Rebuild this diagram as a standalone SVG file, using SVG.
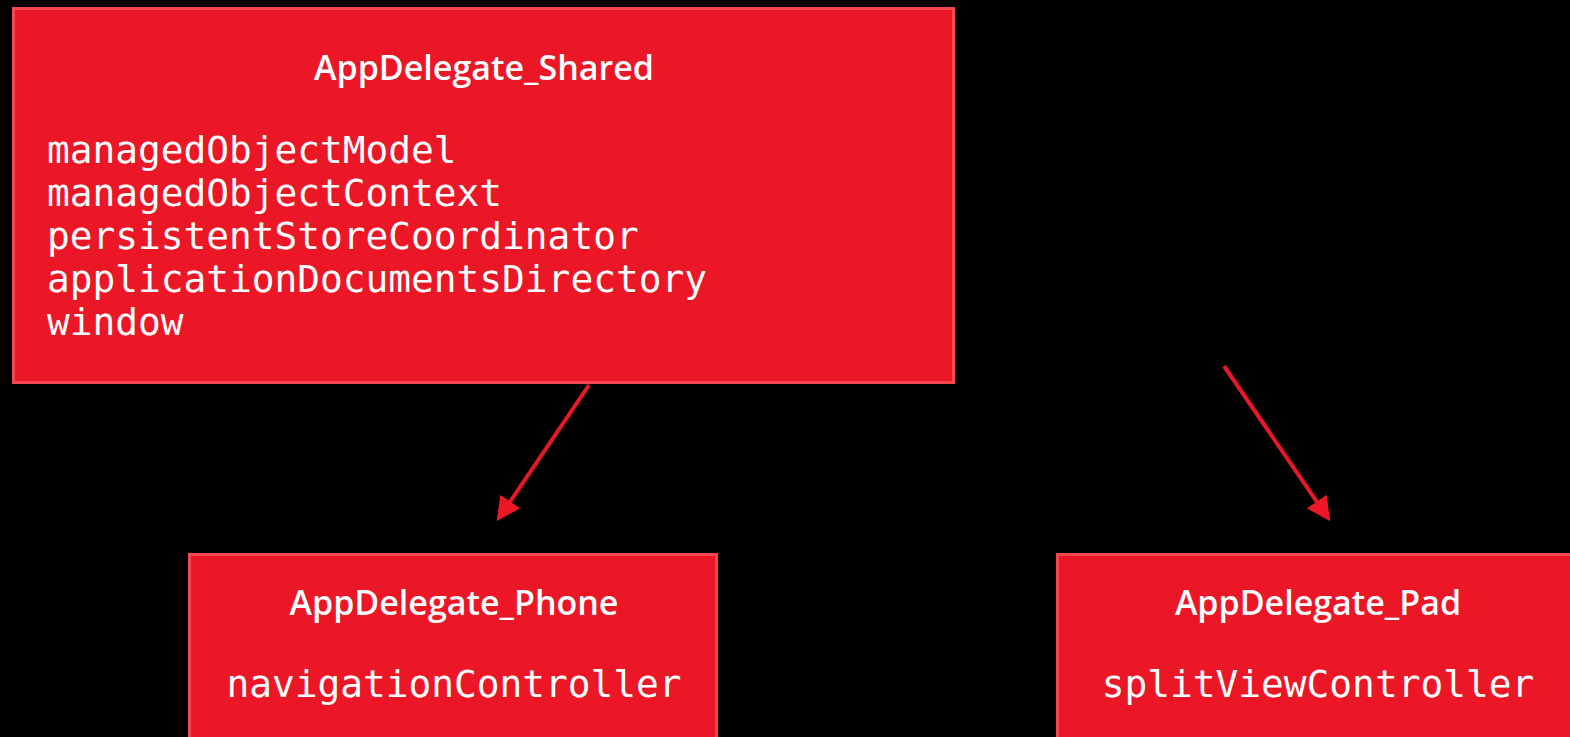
<svg xmlns="http://www.w3.org/2000/svg" width="1570" height="737" viewBox="0 0 1570 737">
<style>
.box{fill:#eb1726;stroke:#f5474f;stroke-width:3}
.title{font-family:"Open Sans","Noto Sans",sans-serif;font-weight:600;font-size:34px;fill:#fff;text-anchor:middle}
.mono{font-family:"DejaVu Sans Mono",monospace;font-size:37.8px;fill:#fff}
.conn{stroke:#eb1726;stroke-width:4;fill:none}
</style>
<defs>
<marker id="ah" markerWidth="6" markerHeight="6" refX="5" refY="3" orient="auto" markerUnits="strokeWidth">
<path d="M0,0 L6,3 L0,6 Z" fill="#eb1726"/>
</marker>
</defs>
<rect width="1570" height="737" fill="#000"/>
<g id="connectors">
<line class="conn" x1="589" y1="385" x2="499" y2="518" marker-end="url(#ah)"/>
<line class="conn" x1="1224" y1="366" x2="1328" y2="518" marker-end="url(#ah)"/>
</g>
<g id="shared">
<rect class="box" x="13.5" y="8.5" width="940" height="374"/>
<text class="title" x="484" y="80">AppDelegate_Shared</text>
<text class="mono" x="47" y="163">managedObjectModel</text>
<text class="mono" x="47" y="206">managedObjectContext</text>
<text class="mono" x="47" y="249">persistentStoreCoordinator</text>
<text class="mono" x="47" y="292">applicationDocumentsDirectory</text>
<text class="mono" x="47" y="335">window</text>
</g>
<g id="phone">
<rect class="box" x="189.5" y="554.5" width="527" height="200"/>
<text class="title" x="454" y="615">AppDelegate_Phone</text>
<text class="mono" x="454" y="697" text-anchor="middle">navigationController</text>
</g>
<g id="pad">
<rect class="box" x="1057.5" y="554.5" width="540" height="200"/>
<text class="title" x="1318" y="615">AppDelegate_Pad</text>
<text class="mono" x="1318" y="697" text-anchor="middle">splitViewController</text>
</g>
</svg>
